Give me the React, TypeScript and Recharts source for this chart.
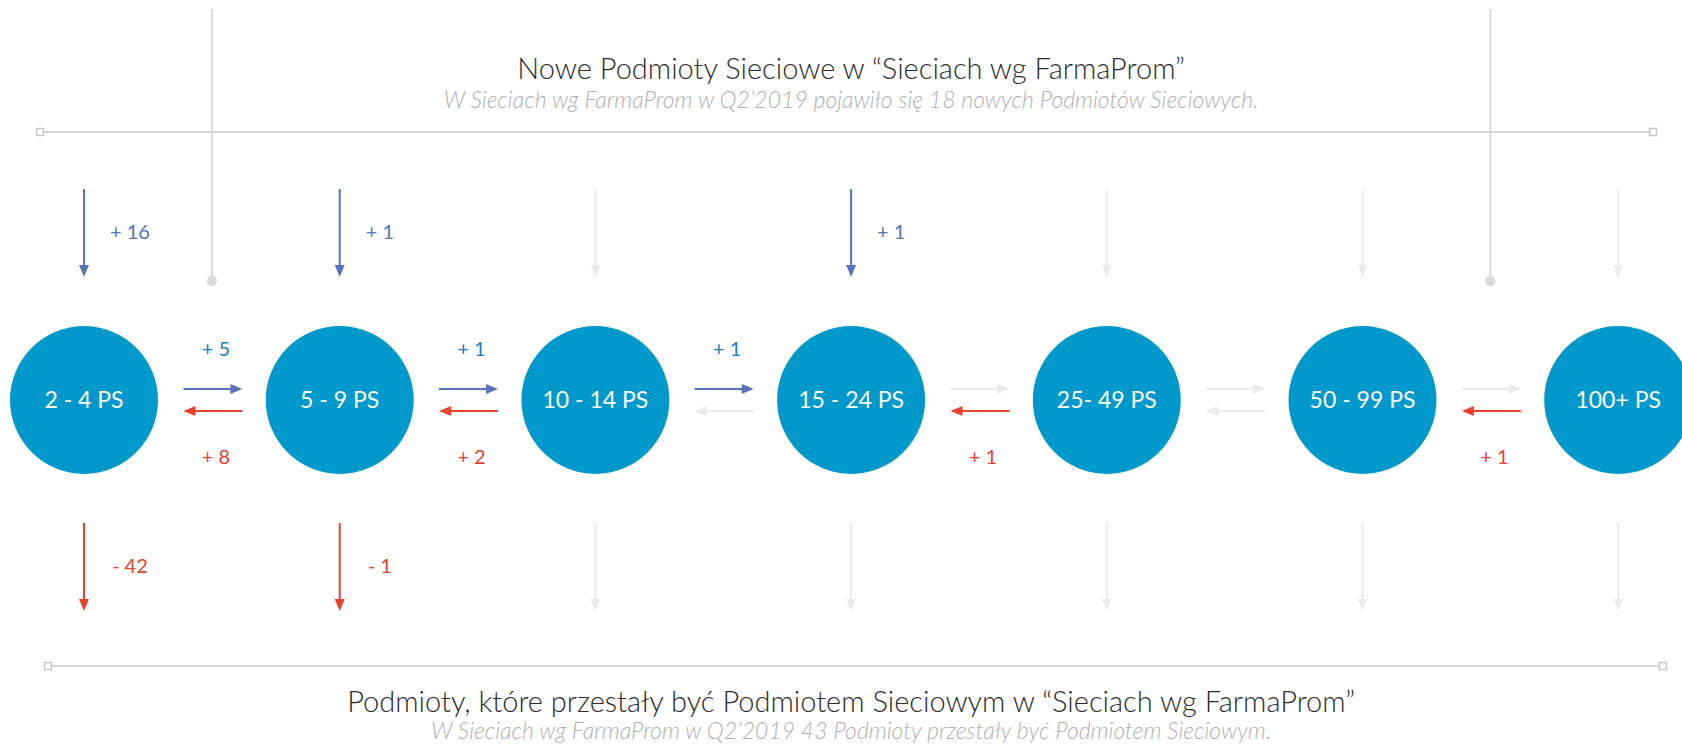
import { ScatterChart, Scatter, XAxis, YAxis, ReferenceLine, ReferenceDot } from 'recharts';

// Grupy podmiotów (węzły diagramu)
const NODES = ['2 - 4 PS', '5 - 9 PS', '10 - 14 PS', '15 - 24 PS', '25- 49 PS', '50 - 99 PS', '100+ PS'];
// Nowe podmioty wchodzące do grupy (strzałki z góry)
const NEW_IN = [16, 1, 0, 1, 0, 0, 0];
// Podmioty, które wypadły z sieci (strzałki w dół)
const LEFT_OUT = [42, 1, 0, 0, 0, 0, 0];
// Przejścia do wyższej grupy: i -> i + 1
const MOVED_UP = [5, 1, 1, 0, 0, 0];
// Przejścia do niższej grupy: i + 1 -> i
const MOVED_DOWN = [8, 2, 0, 1, 0, 1];

const TOP_TITLE = 'Nowe Podmioty Sieciowe w “Sieciach wg FarmaProm”';
const TOP_SUB = 'W Sieciach wg FarmaProm w Q2’2019 pojawiło się 18 nowych Podmiotów Sieciowych.';
const BOTTOM_TITLE = 'Podmioty, które przestały być Podmiotem Sieciowym w “Sieciach wg FarmaProm”';
const BOTTOM_SUB = 'W Sieciach wg FarmaProm w Q2’2019 43 Podmioty przestały być Podmiotem Sieciowym.';

const W = 1682;
const H = 746;
const FONT = 'Lato, "Noto Sans", sans-serif';

const BLUE_NODE = '#0199cb';
const BLUE_ARROW = '#5872bd';
const BLUE_TEXT = '#1b7fc3';
const RED = '#e8412f';
const GRAY_ARROW = '#ebebeb';
const GRAY_LINE = '#d6d6d6';

// skala osi X: indeks węzła
const FIRST_PX = 84;
const STEP_PX = 255.7;
const X_MIN = -FIRST_PX / STEP_PX;
const X_MAX = (W - FIRST_PX) / STEP_PX;
const pxToIdx = (px: number) => (px - FIRST_PX) / STEP_PX;

// wiersze (oś Y w pikselach)
const ROW = {
  title: 79,
  sub: 108,
  topLine: 132,
  inTop: 189,
  node: 400,
  upArrow: 389,
  downArrow: 411,
  upLabel: 349,
  downLabel: 457,
  outTop: 523,
  bottomLine: 666,
  bTitle: 712,
  bSub: 739,
};

const fmt = (sign: string, v: number) => `${sign} ${v}`;

const nodeData = NODES.map((name, i) => ({ x: i, y: ROW.node, name }));
const inData = NEW_IN.map((v, i) => ({ x: i, y: ROW.inTop, v, text: fmt('+', v), color: BLUE_ARROW, dx: 26 }));
const outData = LEFT_OUT.map((v, i) => ({ x: i, y: ROW.outTop, v, text: fmt('-', v), color: RED, dx: 28 }));
const upData = MOVED_UP.map((v, i) => ({ x: i + 0.5, y: ROW.upArrow, v, text: fmt('+', v) }));
const downData = MOVED_DOWN.map((v, i) => ({ x: i + 0.5, y: ROW.downArrow, v, text: fmt('+', v) }));
const captionData = [
  { x: 3, y: ROW.title, text: TOP_TITLE, kind: 'title' },
  { x: 3, y: ROW.sub, text: TOP_SUB, kind: 'sub' },
  { x: 3, y: ROW.bTitle, text: BOTTOM_TITLE, kind: 'title' },
  { x: 3, y: ROW.bSub, text: BOTTOM_SUB, kind: 'sub' },
];
const topEnds = [pxToIdx(40), pxToIdx(1653)];
const bottomEnds = [pxToIdx(48), pxToIdx(1663)];
const endData = [
  { x: topEnds[0], y: ROW.topLine },
  { x: topEnds[1], y: ROW.topLine },
  { x: bottomEnds[0], y: ROW.bottomLine },
  { x: bottomEnds[1], y: ROW.bottomLine },
];
const postX = [0.5, 5.5];

const NodeShape = ({ cx, cy, payload }: any) => (
  <g>
    <circle cx={cx} cy={cy} r={74} fill={BLUE_NODE} />
    <text x={cx} y={cy} dy={8} textAnchor="middle" fill="#fff" fontSize={23} fontFamily={FONT}>
      {payload.name}
    </text>
  </g>
);

const VArrow = ({ cx, cy, payload }: any) => {
  const color = payload.v ? payload.color : GRAY_ARROW;
  const len = 88;
  const head = 12;
  return (
    <g>
      <line x1={cx} y1={cy} x2={cx} y2={cy + len - head + 1} stroke={color} strokeWidth={2} />
      <polygon points={`${cx - 5},${cy + len - head} ${cx + 5},${cy + len - head} ${cx},${cy + len}`} fill={color} />
      {payload.v ? (
        <text x={cx + payload.dx} y={cy + 43} dy={7} fill={color} fontSize={20} fontFamily={FONT}>
          {payload.text}
        </text>
      ) : null}
    </g>
  );
};

const HArrow = (dir: 1 | -1) => ({ cx, cy, payload }: any) => {
  const color = payload.v ? (dir === 1 ? BLUE_ARROW : RED) : GRAY_ARROW;
  const c = cx + 1;
  const half = 29.5;
  const head = 12;
  const tip = c + dir * half;
  const base = tip - dir * head;
  const labelY = dir === 1 ? ROW.upLabel - ROW.upArrow : ROW.downLabel - ROW.downArrow;
  return (
    <g>
      <line x1={c - dir * half} y1={cy} x2={base + dir} y2={cy} stroke={color} strokeWidth={2} />
      <polygon points={`${base},${cy - 5} ${base},${cy + 5} ${tip},${cy}`} fill={color} />
      {payload.v ? (
        <text x={cx + 4} y={cy + labelY} dy={7} textAnchor="middle" fill={dir === 1 ? BLUE_TEXT : RED} fontSize={20} fontFamily={FONT}>
          {payload.text}
        </text>
      ) : null}
    </g>
  );
};

const CaptionShape = ({ cx, cy, payload }: any) =>
  payload.kind === 'title' ? (
    <text x={cx} y={cy} textAnchor="middle" fill="#2b2b2b" fontSize={29} fontWeight={300} fontFamily={FONT}>
      {payload.text}
    </text>
  ) : (
    <text x={cx} y={cy} textAnchor="middle" fill="#b0b0b0" fontSize={23} fontWeight={300} fontStyle="italic" fontFamily={FONT}>
      {payload.text}
    </text>
  );

const EndSquare = ({ cx, cy }: any) => (
  <rect x={cx - 3.5} y={cy - 3.5} width={7} height={7} fill="#fff" stroke="#c8c8c8" strokeWidth={1.5} />
);

export default function App() {
  return (
    <div style={{ position: 'absolute', left: 0, top: 0, width: W, height: H, background: '#fff' }}>
      <ScatterChart width={W} height={H} margin={{ top: 0, right: 0, bottom: 0, left: 0 }}>
        <XAxis type="number" dataKey="x" domain={[X_MIN, X_MAX]} hide allowDataOverflow />
        <YAxis type="number" dataKey="y" domain={[0, H]} reversed hide allowDataOverflow />

        {postX.map((x) => (
          <ReferenceLine key={`post-${x}`} segment={[{ x, y: 9 }, { x, y: 281 }]} stroke="#dadada" strokeWidth={2} />
        ))}
        {postX.map((x) => (
          <ReferenceDot key={`dot-${x}`} x={x} y={281} r={5} fill="#dadada" stroke="none" />
        ))}
        <ReferenceLine segment={[{ x: topEnds[0], y: ROW.topLine }, { x: topEnds[1], y: ROW.topLine }]} stroke={GRAY_LINE} strokeWidth={2} />
        <ReferenceLine segment={[{ x: bottomEnds[0], y: ROW.bottomLine }, { x: bottomEnds[1], y: ROW.bottomLine }]} stroke={GRAY_LINE} strokeWidth={2} />

        <Scatter data={endData} shape={EndSquare} isAnimationActive={false} />
        <Scatter data={captionData} shape={CaptionShape} isAnimationActive={false} />
        <Scatter data={inData} shape={VArrow} isAnimationActive={false} />
        <Scatter data={outData} shape={VArrow} isAnimationActive={false} />
        <Scatter data={upData} shape={HArrow(1)} isAnimationActive={false} />
        <Scatter data={downData} shape={HArrow(-1)} isAnimationActive={false} />
        <Scatter data={nodeData} shape={NodeShape} isAnimationActive={false} />
      </ScatterChart>
    </div>
  );
}
